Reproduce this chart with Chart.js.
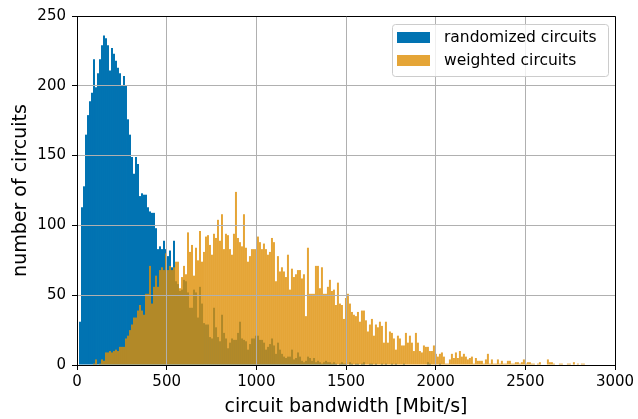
<!DOCTYPE html>
<html><head><meta charset="utf-8">
<script src="https://cdn.jsdelivr.net/npm/chart.js@4.4.1/dist/chart.umd.min.js"></script>
<style>html,body{margin:0;padding:0;background:#fff;}#c{display:block;}</style>
</head><body>
<canvas id="c" width="638" height="419"></canvas>
<script>
// ---- data (histogram counts per bin, bin width in Mbit/s) ----
const binWidth = 11.15;
const seriesLabels = ['randomized circuits', 'weighted circuits'];
const randomizedCounts = [
  0, 31, 113, 128, 165, 179, 189, 195, 219, 199,
  209, 219, 229, 236, 234, 229, 211, 227, 223, 218,
  213, 209, 200, 207, 200, 176, 165, 149, 137, 149,
  144, 121, 123, 122, 122, 113, 110, 109, 109, 98,
  83, 85, 83, 89, 83, 78, 82, 70, 89, 60,
  58, 53, 54, 61, 60, 52, 41, 41, 54, 52,
  34, 56, 44, 30, 29, 29, 20, 19, 41, 27,
  20, 17, 36, 23, 19, 12, 16, 19, 18, 18,
  23, 31, 19, 18, 17, 11, 15, 19, 19, 21,
  21, 18, 18, 16, 11, 13, 15, 19, 14, 8,
  16, 11, 8, 6, 5, 6, 6, 11, 4, 5,
  9, 6, 3, 2, 3, 6, 5, 3, 5, 2,
  3, 2, 1, 2, 3, 2, 2, 1, 2, 1,
  0, 1, 2, 1, 1, 0, 2, 1, 0, 1,
  1, 0, 1, 2, 0, 0, 1, 1, 0, 1,
  0, 0, 1, 0, 1, 0, 0, 1, 0, 1,
  0, 0, 0, 1, 0, 0, 0, 0, 0, 0,
  0, 0, 0, 0, 0, 2, 1, 0, 0, 0,
  0, 1
];
const weightedCounts = [
  0, 0, 0, 0, 0, 0, 0, 0, 1, 4,
  0, 1, 4, 3, 9, 9, 10, 9, 10, 11,
  10, 13, 13, 13, 19, 21, 25, 29, 34, 34,
  39, 43, 39, 36, 51, 51, 71, 44, 56, 64,
  56, 68, 70, 68, 80, 68, 71, 68, 70, 74,
  74, 55, 63, 71, 65, 95, 81, 86, 64, 84,
  75, 96, 74, 81, 92, 93, 86, 79, 94, 91,
  104, 89, 108, 83, 94, 93, 83, 79, 94, 124,
  91, 88, 85, 108, 84, 74, 78, 83, 83, 83,
  92, 88, 83, 87, 83, 79, 81, 91, 88, 60,
  78, 67, 70, 67, 63, 79, 54, 69, 63, 65,
  68, 68, 62, 65, 35, 84, 51, 51, 51, 71,
  71, 55, 70, 51, 51, 56, 61, 53, 54, 43,
  59, 44, 43, 33, 48, 51, 44, 38, 36, 35,
  38, 31, 39, 39, 32, 24, 29, 33, 21, 29,
  27, 31, 28, 16, 31, 16, 24, 23, 19, 11,
  21, 19, 14, 14, 23, 16, 21, 16, 10, 23,
  16, 10, 9, 14, 13, 13, 10, 10, 14, 8,
  6, 8, 9, 6, 1, 1, 4, 8, 5, 9,
  5, 10, 6, 8, 6, 4, 5, 6, 1, 5,
  3, 3, 3, 1, 4, 8, 1, 4, 1, 1,
  4, 1, 3, 1, 1, 3, 3, 1, 1, 2,
  2, 1, 2, 4, 1, 2, 2, 1, 1, 0,
  1, 2, 0, 0, 0, 4, 2, 2, 1, 0,
  0, 1, 1, 0, 0, 1, 1, 0, 2, 0,
  1, 0, 1, 1
];
const xTicks = [0, 500, 1000, 1500, 2000, 2500, 3000];
const yTicks = [0, 50, 100, 150, 200, 250];
const xTitle = 'circuit bandwidth [Mbit/s]';
const yTitle = 'number of circuits';

// ---- styling ----
const BLUE = '#0173B2';
const ORANGE = 'rgba(222,143,5,0.8)';
Chart.defaults.font.family = "'DejaVu Sans', sans-serif";
Chart.defaults.color = '#000';

const toPoints = counts => counts.map((c, i) => ({x: (i + 0.5) * binWidth, y: c}));

const overlay = {
  id: 'overlay',
  afterDatasetsDraw(chart) {
    const {ctx, chartArea: a} = chart;
    chart.scales.x.drawGrid(a);
    chart.scales.y.drawGrid(a);
    chart.scales.x.drawBorder();
    chart.scales.y.drawBorder();
    ctx.save();
    ctx.strokeStyle = '#000';
    ctx.lineWidth = 1;
    ctx.beginPath();
    ctx.moveTo(a.left + 0.5, a.top + 0.5);
    ctx.lineTo(a.right + 0.5, a.top + 0.5);
    ctx.lineTo(a.right + 0.5, a.bottom + 0.5);
    ctx.stroke();
    ctx.restore();
  },
  afterDraw(chart) {
    const {ctx, chartArea: a} = chart;
    const w = 216, h = 52;
    const x = a.right - 7 - w, y = a.top + 8;
    ctx.save();
    const r = 3;
    ctx.beginPath();
    ctx.moveTo(x + r + 0.5, y + 0.5);
    ctx.arcTo(x + w + 0.5, y + 0.5, x + w + 0.5, y + h + 0.5, r);
    ctx.arcTo(x + w + 0.5, y + h + 0.5, x + 0.5, y + h + 0.5, r);
    ctx.arcTo(x + 0.5, y + h + 0.5, x + 0.5, y + 0.5, r);
    ctx.arcTo(x + 0.5, y + 0.5, x + w + 0.5, y + 0.5, r);
    ctx.closePath();
    ctx.fillStyle = 'rgba(255,255,255,0.8)';
    ctx.fill();
    ctx.strokeStyle = '#cccccc';
    ctx.lineWidth = 1;
    ctx.stroke();
    const colors = [BLUE, ORANGE];
    ctx.font = "15.5px 'DejaVu Sans'";
    ctx.textBaseline = 'middle';
    ctx.fillStyle = '#000';
    chart.data.datasets.forEach((ds, i) => {
      const py = y + 8 + i * 23;
      ctx.fillStyle = colors[i];
      ctx.fillRect(x + 5, py, 33, 11);
      ctx.fillStyle = '#000';
      ctx.fillText(ds.label, x + 52, py + 5.5);
    });
    ctx.restore();
  }
};

new Chart(document.getElementById('c'), {
  type: 'bar',
  data: {
    datasets: [
      {label: seriesLabels[0], data: toPoints(randomizedCounts), backgroundColor: BLUE, order: 1},
      {label: seriesLabels[1], data: toPoints(weightedCounts), backgroundColor: ORANGE, order: 0}
    ]
  },
  options: {
    responsive: false,
    animation: false,
    devicePixelRatio: 1,
    layout: {padding: {left: 0, right: 23, top: 16, bottom: 0}},
    datasets: {bar: {grouped: false, barPercentage: 1, categoryPercentage: 1, borderWidth: 0, inflateAmount: 0}},
    plugins: {legend: {display: false}, tooltip: {enabled: false}},
    scales: {
      x: {
        type: 'linear', min: 0, max: 3000, offset: false,
        afterBuildTicks: s => { s.ticks = xTicks.map(v => ({value: v})); },
        afterFit: s => { s.height = 54; },
        grid: {offset: false, color: '#b0b0b0', lineWidth: 1, tickColor: '#000', tickLength: 5},
        border: {display: true, color: '#000', width: 1},
        ticks: {font: {size: 15}, color: '#000', padding: 3, maxRotation: 0, autoSkip: false, callback: v => String(v)},
        title: {display: true, text: xTitle, font: {size: 19}, color: '#000', padding: {top: 0, bottom: 1}}
      },
      y: {
        min: 0, max: 250,
        afterBuildTicks: s => { s.ticks = yTicks.map(v => ({value: v})); },
        afterFit: s => { s.width = 77; },
        grid: {color: '#b0b0b0', lineWidth: 1, tickColor: '#000', tickLength: 5},
        border: {display: true, color: '#000', width: 1},
        ticks: {font: {size: 15}, color: '#000', padding: 6, callback: v => String(v)},
        title: {display: true, text: yTitle, font: {size: 19}, color: '#000', padding: {top: 10, bottom: 0}}
      }
    }
  },
  plugins: [overlay]
});
</script>
</body></html>
